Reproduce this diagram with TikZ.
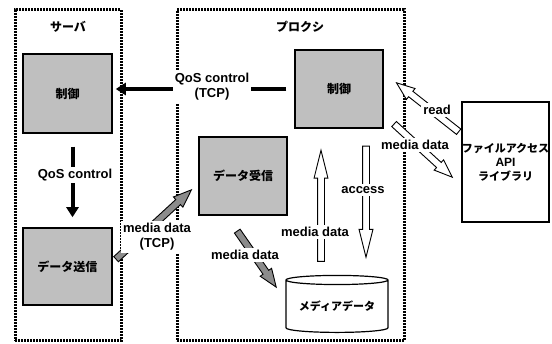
\documentclass[tikz,border=0pt]{standalone}
\usepackage{fontspec}
\setmainfont{Liberation Sans}
\newfontfamily\jp{Noto Sans CJK JP}
\usepackage{tikz}
\usetikzlibrary{arrows.meta,shapes.arrows,shapes.geometric,calc}
\definecolor{boxgray}{gray}{0.75}
\definecolor{arrgray}{gray}{0.55}
\newcommand{\blkarrow}[3][blkw]{%
  \path let \p1=#2, \p2=#3, \n1={atan2(\y2-\y1,\x2-\x1)},
    \n2={veclen(\x2-\x1,\y2-\y1)} in
    node[#1, minimum height=\n2, rotate=\n1, anchor=tail] at (\p1) {};}

\begin{document}
\begin{tikzpicture}[x=1pt,y=-1pt,
    grp/.style={draw, inner sep=0pt, line width=3pt, dash pattern=on 1.6pt off 1.4pt},
    unit/.style={draw, line width=1.5pt, fill=boxgray, inner sep=0pt,
      font=\jp\bfseries\fontsize{12}{14}\selectfont},
    ttl/.style={font=\jp\bfseries\fontsize{12}{14}\selectfont},
    lbl/.style={fill=white, inner sep=2pt, align=center,
      font=\bfseries\fontsize{13}{15}\selectfont},
    blkw/.style={single arrow, draw, fill=white, line width=0.9pt, inner xsep=0pt,
      inner ysep=3pt, single arrow head extend=3.5pt, single arrow tip angle=28},
    blkg/.style={blkw, fill=arrgray, single arrow tip angle=42},
    blkr/.style={blkw, single arrow tip angle=42},
    qos/.style={line width=4pt, -{Triangle[length=10pt,width=12pt]}}]
  \useasboundingbox (0,0) rectangle (552,344);
  \node[grp, minimum width=106, minimum height=331] (srv) at (68,175.5) {};
  \node[grp, minimum width=227, minimum height=331] (prx) at (290.5,175.5) {};
  \node[ttl] (srvT) at (68,27) {サーバ};
  \node[ttl] (prxT) at (300,27) {プロクシ};

  \node[unit, minimum width=89, minimum height=79] (ctrlS) at (67.5,93.5) {制御};
  \node[unit, minimum width=89, minimum height=77] (sendS) at (67.5,266.5) {データ送信};
  \node[unit, minimum width=88, minimum height=78] (ctrlP) at (339,89) {制御};
  \node[unit, minimum width=88, minimum height=78] (recv) at (243,176) {データ受信};
  \node[cylinder, shape border rotate=90, aspect=0.12, draw, line width=1.2pt,
    fill=white, minimum width=102, minimum height=57, inner sep=0pt,
    font=\jp\bfseries\fontsize{11}{13}\selectfont] (media) at (337,306.5) {メディアデータ};
  \node[draw, line width=1.5pt, minimum width=87, minimum height=120, inner sep=0pt,
    align=center, font=\bfseries\fontsize{12}{14}\selectfont] (api) at (505.5,162)
    {{\jp\fontsize{11}{14}\selectfont ファイルアクセス}\\API\\{\jp\fontsize{11}{14}\selectfont ライブラリ}};

  \path[qos]
    (ctrlP.west) edge[shorten <=8pt, shorten >=3pt] (ctrlP.west -| ctrlS.east)
    ([xshift=5pt]ctrlS.south) edge[shorten <=13pt, shorten >=10pt] ([xshift=5pt]sendS.north);

  \blkarrow[blkg]{($(sendS.east)+(3,-7)$)}{($(recv.west)+(-7,14)$)}
  \blkarrow[blkg]{($(recv.south)+(-6,15)$)}{($(media.north)+(-61,12)$)}
  \blkarrow{($(media.north)+(-16,-13)$)}{($(ctrlP.south)+(-18,22)$)}
  \blkarrow{($(ctrlP.south)+(27,17)$)}{($(media.north)+(29,-18)$)}
  \blkarrow[blkr]{($(api.west)+(-2,-30)$)}{($(ctrlP.east)+(13,-6)$)}
  \blkarrow[blkr]{($(ctrlP.south east)+(10,-5)$)}{($(api.west)+(-9,15)$)}

  \node[lbl] (qosP) at (212,87) {QoS control\\(TCP)};
  \node[lbl] (qosS) at (75,175) {QoS control};
  \node[lbl] (tcpM) at (157,237) {media data\\(TCP)};
  \node[lbl] (recvM) at (245,255) {media data};
  \node[lbl] (upM) at (315,232) {media data};
  \node[lbl] (acc) at (363,190) {access};
  \node[lbl] (rd) at (437,110) {read};
  \node[lbl] (apiM) at (415,145) {media data};
\end{tikzpicture}
\end{document}
